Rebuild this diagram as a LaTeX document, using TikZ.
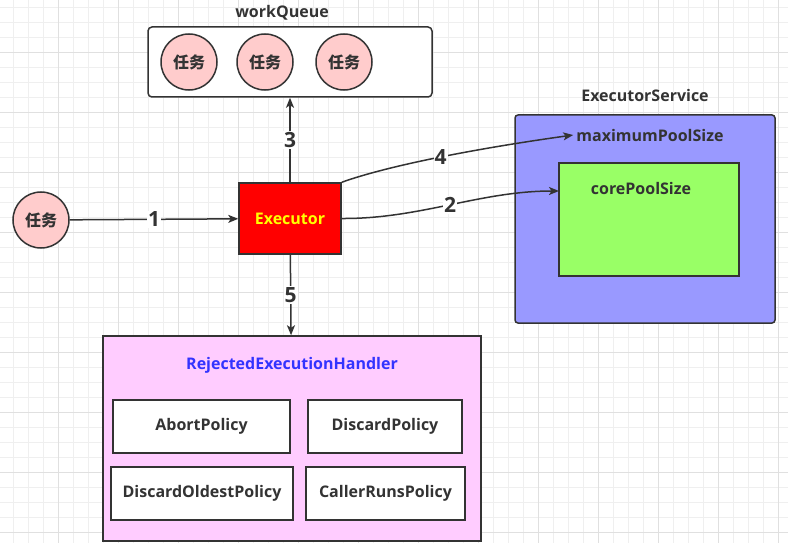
\documentclass[tikz,border=0pt]{standalone}
\usepackage{fontspec}
\setmainfont{Open Sans}
\newfontfamily\cjk{Noto Sans CJK SC}
\usetikzlibrary{arrows.meta}

\definecolor{ink}{HTML}{333333}
\definecolor{gridminor}{HTML}{EFEFEF}
\definecolor{gridmajor}{HTML}{E0E0E0}
\definecolor{taskpink}{HTML}{FFCCCC}
\definecolor{execred}{HTML}{FF0000}
\definecolor{execyellow}{HTML}{FFFF00}
\definecolor{poolblue}{HTML}{9999FF}
\definecolor{coregreen}{HTML}{99FF66}
\definecolor{rejectpink}{HTML}{FFCCFF}
\definecolor{rejectblue}{HTML}{3333FF}

\begin{document}
\begin{tikzpicture}[x=1pt, y=-1pt, >={Stealth[length=10pt, width=8pt, inset=2.5pt]},
  box/.style={draw=ink, line width=1.5pt, inner sep=0pt, text=ink, font=\bfseries\fontsize{16}{19}\selectfont},
  task/.style={circle, draw=ink, line width=1.5pt, fill=taskpink, minimum size=56pt, inner sep=0pt, text=ink, font=\cjk\bfseries\fontsize{16}{19}\selectfont},
  caption/.style={inner sep=3pt, text=ink, font=\bfseries\fontsize{16}{19}\selectfont},
  link/.style={->, draw=ink, line width=1.5pt},
  num/.style={fill=white, inner sep=1pt, text=ink, font=\bfseries\fontsize{21}{25}\selectfont}]

  \useasboundingbox (0,0) rectangle (788,543);

  % Grid
  \foreach \x in {13.5,28.5,...,788}
  \draw[gridminor, line width=0.8pt] (\x,0) -- (\x,543);
  \foreach \y in {7.5,22.5,...,543}
  \draw[gridminor, line width=0.8pt] (0,\y) -- (788,\y);
  \foreach \x in {58.5,118.5,...,788}
  \draw[gridmajor, line width=0.8pt] (\x,0) -- (\x,543);
  \foreach \y in {52.5,112.5,...,543}
  \draw[gridmajor, line width=0.8pt] (0,\y) -- (788,\y);

  % Work queue
  \node[box, fill=white, rounded corners=4pt, minimum width=284pt, minimum height=70pt] (queue) at (290,62) {};
  \node[caption] (queuelabel) at (282,13) {workQueue};
  \foreach \i/\x in {1/189,2/265,3/344}
  \node[task] (queued\i) at (\x,62) {任务};

  % Incoming task and executor
  \node[task] (task) at (41,220) {任务};
  \node[box, fill=execred, text=execyellow, minimum width=102pt, minimum height=71pt] (executor) at (290,218.5) {Executor};

  % Executor service
  \node[box, fill=poolblue, rounded corners=3pt, minimum width=260pt, minimum height=208pt] (service) at (645,219) {};
  \node[caption] (servicelabel) at (645,96) {ExecutorService};
  \node[caption] (maxpool) at (650,135) {maximumPoolSize};
  \node[box, fill=coregreen, minimum width=180pt, minimum height=113pt] (corepool) at (649,219.5) {};
  \node[caption] (corelabel) at (641,188) {corePoolSize};
  \coordinate (corein) at (559,191);

  % Rejected execution handler
  \node[box, fill=rejectpink, minimum width=378pt, minimum height=205pt] (handler) at (292,438.5) {};
  \node[caption, text=rejectblue] (handlerlabel) at (292,365) {RejectedExecutionHandler};
  \node[box, fill=white, minimum width=177pt, minimum height=53pt] (abort) at (201.5,426.5) {AbortPolicy};
  \node[box, fill=white, minimum width=154pt, minimum height=53pt] (discard) at (385,426.5) {DiscardPolicy};
  \node[box, fill=white, minimum width=182pt, minimum height=53pt] (oldest) at (202,493.5) {DiscardOldestPolicy};
  \node[box, fill=white, minimum width=159pt, minimum height=53pt] (caller) at (385.5,493.5) {CallerRunsPolicy};

  % Connections
  \draw[link] (task) -- node[num] {1} (executor);
  \draw[link] (executor.east) .. controls (420,219) and (480,191) .. node[num] {2} (corein);
  \draw[link] (executor) -- node[num] {3} (queue);
  \draw[link] (executor.north east) .. controls (390,165) and (480,148) .. node[num] {4} (maxpool.west);
  \draw[link] (executor) -- node[num] {5} (handler);

\end{tikzpicture}
\end{document}
